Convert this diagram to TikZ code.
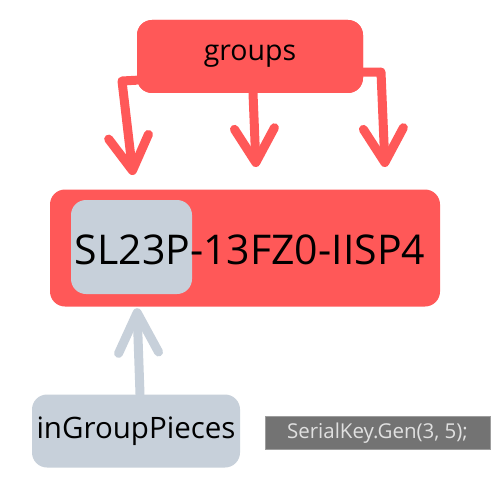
\documentclass[tikz,border=0pt]{standalone}
\usepackage{fontspec}
\setmainfont{Open Sans}
\usetikzlibrary{arrows.meta}
\definecolor{keyred}{RGB}{255,88,88}
\definecolor{piecegray}{RGB}{199,208,218}
\definecolor{codegray}{RGB}{115,115,115}
\definecolor{codetext}{RGB}{224,224,224}
\begin{document}
\begin{tikzpicture}[x=1pt,y=-1pt,
    box/.style={rounded corners=15pt,inner sep=0pt},
    redbox/.style={box,fill=keyred},
    graybox/.style={box,fill=piecegray},
    redarrow/.style={draw=keyred,line width=9pt,line cap=round,line join=round,
        -{Straight Barb[length=34pt,width=40pt,round]}},
    grayarrow/.style={draw=piecegray,line width=9pt,line cap=round,line join=round,
        -{Straight Barb[length=40pt,width=40pt,round]}}]
        \useasboundingbox[fill=white] (0,0) rectangle (500,500);

        % the group arrows, behind the boxes
        \node[redbox,minimum width=226pt,minimum height=73pt] (groups) at (250,56.5) {};
        \coordinate (tipA) at (133,175);
        \coordinate (tipB) at (256,167);
        \coordinate (tipC) at (385,167);
        \draw[redarrow] ([yshift=13pt]groups.south west) -- (122,81) -- (tipA);
        \draw[redarrow] ([xshift=3pt]groups.south) -- (tipB);
        \draw[redarrow] ([yshift=21pt]groups.south east) -- (381,72) -- (tipC);
        \node[redbox,minimum width=226pt,minimum height=73pt] at (groups) {\fontsize{28.5}{32}\selectfont groups};

        % the key
        \node[redbox,minimum width=390pt,minimum height=117pt] (key) at (245,248) {};
        \node[graybox,minimum width=121pt,minimum height=94pt] (first) at (131.5,247) {};
        \node (keytext) at (250,250) {\fontsize{41}{46}\selectfont SL23P-13FZ0-IISP4};

        % pieces of one group
        \node[graybox,minimum width=208pt,minimum height=73pt] (pieces) at (136,431)
            {\fontsize{29.5}{34}\selectfont inGroupPieces};
        \draw[grayarrow] ([xshift=4pt]pieces.north) -- ([xshift=5.5pt,yshift=-14pt]first.south);

        \node[fill=codegray,draw=codegray!70!white,minimum width=225pt,minimum height=33pt,inner sep=0pt]
            (code) at (377.5,433) {\color{codetext}\fontsize{20.5}{24}\selectfont SerialKey.Gen(3, 5);};
    \end{tikzpicture}
\end{document}
